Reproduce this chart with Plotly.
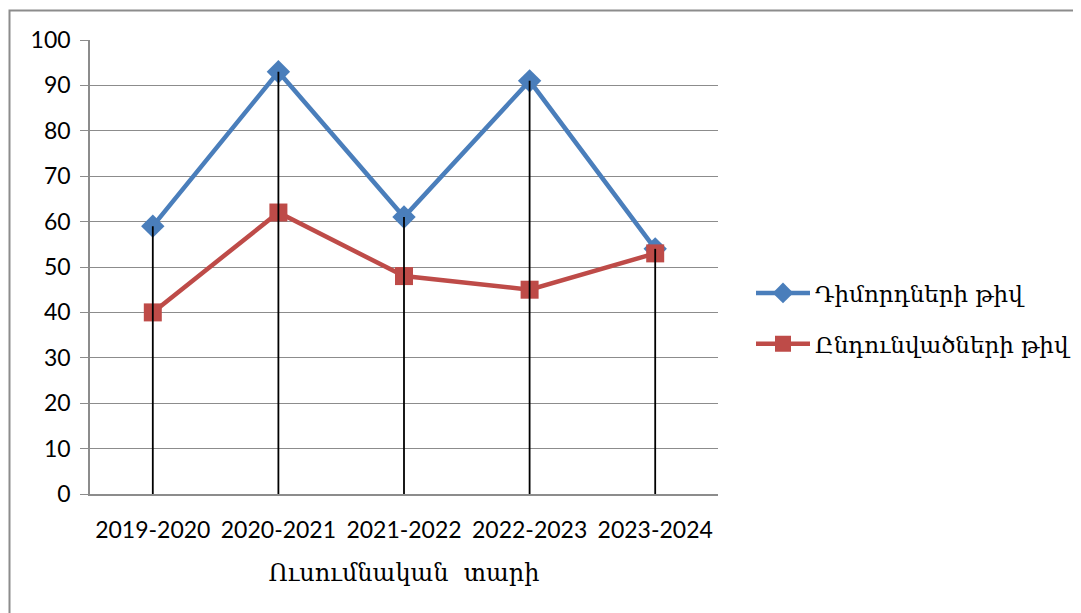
import plotly.graph_objects as go

categories = ["2019-2020", "2020-2021", "2021-2022", "2022-2023", "2023-2024"]
series1_name = "Դիմորդների թիվ"
series1 = [59, 93, 61, 91, 54]
series2_name = "Ընդունվածների թիվ"
series2 = [40, 62, 48, 45, 53]
x_title = "Ուսումնական  տարի"
y_ticks = list(range(0, 101, 10))

# page body has an 8px margin, so figure coords = screen coords - 8
OFF = 8
W, H = 1081, 613
L, R, T, B = 90 - OFF, 718 - OFF, 40 - OFF, 494 - OFF

fig = go.Figure()

fig.add_trace(go.Scatter(
    x=categories, y=series1, name=series1_name, mode="lines+markers",
    legendgroup="a",
    line=dict(color="#4A7EBB", width=4.5),
    marker=dict(symbol="diamond", size=18, color="#4A7EBB"),
))
fig.add_trace(go.Scatter(
    x=categories, y=series2, name=series2_name, mode="lines+markers",
    legendgroup="b",
    line=dict(color="#BE4B48", width=4.5),
    marker=dict(symbol="square", size=18, color="#BE4B48"),
))

# drop lines from the highest point of each category to the axis
dx, dy = [], []
for c, a, b in zip(categories, series1, series2):
    dx += [c, c, None]
    dy += [max(a, b), 0, None]
fig.add_trace(go.Scatter(
    x=dx, y=dy, mode="lines", line=dict(color="black", width=1.8),
    showlegend=False, hoverinfo="skip",
))

pw = R - L
ph = B - T
# outer frame (top and left edges visible)
fig.add_shape(type="rect", xref="paper", yref="paper",
              x0=(1.5 - L) / pw, x1=(W + 40 - L) / pw,
              y0=(B - (H + 40)) / ph, y1=(B - 2.5) / ph,
              line=dict(color="#8C8C8C", width=2), layer="below")

fig.update_layout(
    width=W, height=H,
    margin=dict(l=L, r=W - R, t=T, b=H - B, autoexpand=False),
    paper_bgcolor="white", plot_bgcolor="white",
    showlegend=True,
    legend=dict(x=(743 - L) / pw, y=(B - 310.5) / ph, yanchor="middle", xanchor="left",
                font=dict(family="DejaVu Serif", size=23, color="black"),
                itemwidth=54, tracegroupgap=18, traceorder="grouped",
                bgcolor="rgba(0,0,0,0)"),
    xaxis=dict(
        type="category", range=[-0.5, 4.5],
        showgrid=False, showline=True, linecolor="#8C8C8C", linewidth=1.5,
        ticks="", ticklabelstandoff=15,
        tickfont=dict(family="Lato", size=23, color="black"),
        title=dict(text=x_title, font=dict(family="DejaVu Serif", size=24, color="black"), standoff=22),
        fixedrange=True,
    ),
    yaxis=dict(
        range=[0, 100], tickvals=y_ticks,
        showgrid=True, gridcolor="#8C8C8C", gridwidth=1,
        showline=True, linecolor="#8C8C8C", linewidth=1.5,
        ticks="outside", ticklen=8, tickcolor="#8C8C8C", ticklabelstandoff=5,
        tickfont=dict(family="Lato", size=23, color="black"),
        zeroline=False, fixedrange=True,
    ),
)

fig.write_html("out.html")
